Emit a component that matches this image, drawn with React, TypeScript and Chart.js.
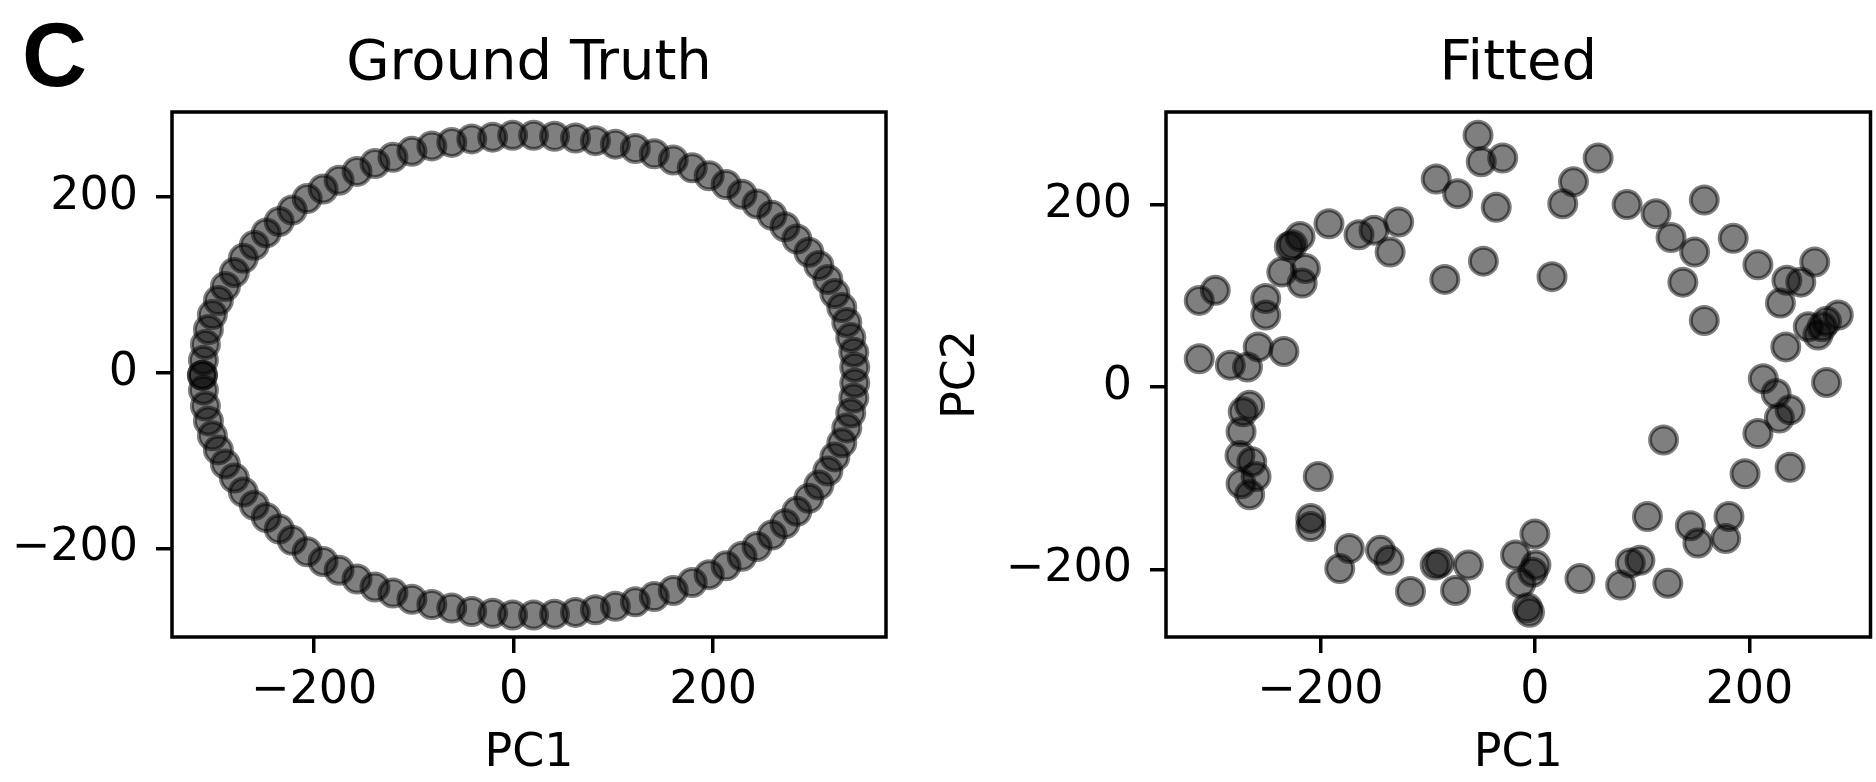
import React, { useEffect, useRef } from 'react';
import { Chart, registerables } from 'chart.js';

Chart.register(...registerables);

// ---- Data ----
const GT_X = [
  -312, -311, -309, -306, -302, -296, -289, -280, -271, -260,
  -248, -235, -222, -207, -191, -175, -157, -139, -121, -102,
  -82, -62, -42, -21, -1, 20, 41, 62, 82, 102,
  122, 141, 160, 179, 196, 213, 229, 244, 259, 272,
  284, 296, 306, 315, 322, 329, 334, 338, 341, 342,
  342, 341, 338, 334, 329, 322, 315, 306, 296, 284,
  272, 259, 244, 229, 213, 196, 179, 160, 141, 122,
  102, 82, 62, 41, 20, -1, -21, -42, -62, -82,
  -102, -121, -139, -157, -175, -191, -207, -222, -235, -248,
  -260, -271, -280, -289, -296, -302, -306, -309, -311, -312,
];
const GT_Y = [
  -3, -20, -38, -55, -72, -88, -104, -120, -136, -151,
  -165, -178, -191, -204, -215, -225, -235, -244, -251, -258,
  -264, -268, -272, -274, -276, -276, -275, -273, -270, -266,
  -261, -255, -248, -239, -230, -220, -209, -198, -185, -172,
  -158, -143, -128, -112, -96, -80, -63, -46, -29, -12,
  6, 23, 40, 57, 74, 90, 106, 122, 137, 152,
  166, 179, 192, 203, 214, 224, 233, 242, 249, 255,
  260, 264, 267, 269, 270, 270, 268, 266, 262, 258,
  252, 245, 238, 229, 219, 209, 198, 185, 172, 159,
  145, 130, 114, 98, 82, 66, 49, 32, 14, -3,
];

const FIT_X = [
  -53, -50, -30, -92, -72, -36, -48, -84, -192, -164,
  -150, -127, -135, -226, -219, -229, -236, -214, -217, -298,
  -313, -251, -251, -313, -284, -258, -234, -268, 59, 36,
  26, 16, 86, 113, 158, 127, 149, 138, 158, 185,
  208, 235, 248, 261, 229, 234, 255, 264, 272, 283,
  268, 213, 272, 225, 238, 228, 208, 238, 196, 120,
  105, 181, 145, 152, 178, 0, -18, 1, -2, -13,
  -7, -5, 89, 98, 80, 124, 42, -266, -272, -274,
  -275, -264, -260, -274, -266, -202, -209, -209, -173, -182,
  -144, -136, -116, -93, -89, -62, -74,
];
const FIT_Y = [
  276, 247, 251, 228, 212, 197, 138, 118, 179, 167,
  172, 181, 148, 156, 165, 154, 126, 130, 114, 106,
  95, 97, 79, 31, 24, 44, 39, 22, 251, 225,
  201, 121, 200, 190, 205, 164, 148, 115, 73, 163,
  134, 117, 115, 137, 92, 44, 66, 57, 72, 79,
  66, 9, 5, -7, -25, -34, -51, -88, -95, -58,
  -142, -142, -152, -171, -166, -161, -184, -195, -203, -215,
  -242, -247, -193, -190, -217, -215, -210, -20, -27, -49,
  -75, -82, -98, -106, -118, -98, -144, -153, -177, -199,
  -179, -190, -224, -195, -193, -195, -223,
];

const X_TICKS = [-200, 0, 200];
const X_TICK_LABELS = ['\u2212200', '0', '200'];
const Y_TICKS = [-200, 0, 200];
const Y_TICK_LABELS = ['\u2212200', '0', '200'];
const PANEL_TITLES = ['Ground Truth', 'Fitted'];
const X_AXIS_LABEL = 'PC1';
const Y_AXIS_LABEL = 'PC2';
const PANEL_LETTER = 'C';

const FONT = 'DejaVu Sans';
const TEXT = '#000';

const framePlugin = {
  id: 'frame',
  afterDatasetsDraw(chart: any) {
    const { ctx, chartArea: a } = chart;
    ctx.save();
    ctx.strokeStyle = '#000';
    ctx.lineWidth = 3.5;
    ctx.strokeRect(a.left, a.top, a.right - a.left, a.bottom - a.top);
    ctx.restore();
  },
};

type PanelProps = {
  xs: number[];
  ys: number[];
  title: string;
  xMin: number;
  xMax: number;
  yMin: number;
  yMax: number;
  yAxisWidth: number;
  showYTitle: boolean;
  padRight: number;
  left: number;
  width: number;
};

function Panel(p: PanelProps) {
  const ref = useRef<HTMLCanvasElement | null>(null);
  useEffect(() => {
    if (!ref.current) return;
    const tickFont = { family: FONT, size: 46 };
    const grid = {
      display: true,
      drawOnChartArea: false,
      drawTicks: true,
      tickLength: 16,
      tickWidth: 3.5,
      tickColor: '#000',
      lineWidth: 3.5,
      color: '#000',
    };
    const chart = new Chart(ref.current, {
      type: 'scatter',
      data: {
        datasets: [
          {
            data: p.xs.map((x, i) => ({ x, y: p.ys[i] })),
            pointBackgroundColor: 'rgba(0,0,0,0.5)',
            pointBorderColor: 'rgba(0,0,0,0.5)',
            pointBorderWidth: 4,
            pointRadius: 13.5,
            pointHoverRadius: 13.5,
          },
        ],
      },
      options: {
        responsive: false,
        animation: false,
        events: [],
        layout: { padding: { left: 0, right: p.padRight, top: 0, bottom: 0 } },
        plugins: {
          legend: { display: false },
          tooltip: { enabled: false },
          title: {
            display: true,
            text: p.title,
            fullSize: false,
            color: TEXT,
            font: { family: FONT, size: 56, weight: 'normal', lineHeight: 1.2 },
            padding: { top: 30.5, bottom: 14.3 },
          },
        },
        scales: {
          x: {
            type: 'linear',
            min: p.xMin,
            max: p.xMax,
            afterBuildTicks: (s: any) => {
              s.ticks = X_TICKS.map((v) => ({ value: v }));
            },
            afterFit: (s: any) => {
              s.height = 145;
            },
            ticks: {
              autoSkip: false,
              maxRotation: 0,
              color: TEXT,
              font: tickFont,
              padding: 10,
              callback: (v: any) => X_TICK_LABELS[X_TICKS.indexOf(Number(v))],
            },
            grid,
            border: { display: false },
            title: {
              display: true,
              text: X_AXIS_LABEL,
              color: TEXT,
              font: tickFont,
              padding: { top: 0, bottom: 0 },
            },
          },
          y: {
            type: 'linear',
            min: p.yMin,
            max: p.yMax,
            afterBuildTicks: (s: any) => {
              s.ticks = Y_TICKS.map((v) => ({ value: v }));
            },
            afterFit: (s: any) => {
              s.width = p.yAxisWidth;
            },
            ticks: {
              autoSkip: false,
              color: TEXT,
              font: tickFont,
              padding: 18,
              callback: (v: any) => Y_TICK_LABELS[Y_TICKS.indexOf(Number(v))],
            },
            grid,
            border: { display: false },
            title: {
              display: p.showYTitle,
              text: Y_AXIS_LABEL,
              color: TEXT,
              font: tickFont,
              padding: { top: 1, bottom: 0 },
            },
          },
        },
      } as any,
      plugins: [framePlugin],
    });
    return () => chart.destroy();
  }, []);
  return (
    <canvas
      ref={ref}
      width={p.width}
      height={782}
      style={{ position: 'absolute', left: p.left, top: 0, width: p.width, height: 782 }}
    />
  );
}

export default function App() {
  return (
    <div
      style={{
        position: 'fixed',
        left: 0,
        top: 0,
        width: 1876,
        height: 782,
        overflow: 'hidden',
        background: '#fff',
      }}
    >
      <div
        style={{
          position: 'absolute',
          left: 22,
          top: 10,
          font: "bold 90px 'Liberation Sans'",
          lineHeight: '90px',
          color: '#000',
        }}
      >
        {PANEL_LETTER}
      </div>
      <Panel
        xs={GT_X}
        ys={GT_Y}
        title={PANEL_TITLES[0]}
        xMin={-342.5}
        xMax={373.3}
        yMin={-301}
        yMax={296.6}
        yAxisWidth={172}
        showYTitle={false}
        padRight={44}
        left={0}
        width={930}
      />
      <Panel
        xs={FIT_X}
        ys={FIT_Y}
        title={PANEL_TITLES[1]}
        xMin={-344}
        xMax={313}
        yMin={-274}
        yMax={301.5}
        yAxisWidth={233}
        showYTitle={true}
        padRight={6}
        left={933}
        width={955}
      />
    </div>
  );
}
